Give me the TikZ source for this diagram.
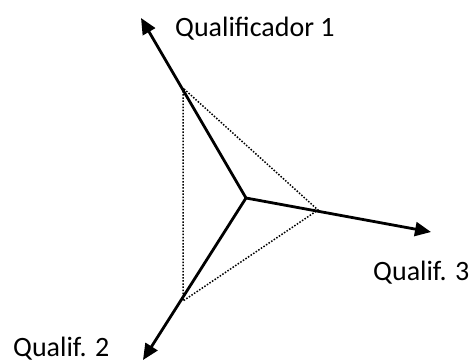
\documentclass[tikz,border=0pt]{standalone}
\usepackage{fontspec}
\setmainfont{Carlito}
\usetikzlibrary{arrows.meta,calc}
\begin{document}
\begin{tikzpicture}[x=1pt,y=-1pt,
  axis/.style={line width=2.8pt,-{Triangle[length=16pt,width=14pt]}},
  dotline/.style={line width=1.5pt,dash pattern=on 1.5pt off 1.6pt},
  lab/.style={font=\fontsize{28}{32}\selectfont,inner sep=0pt}]
\useasboundingbox (0,0) rectangle (473,362);
\coordinate (O) at (246,198);
\coordinate (A1) at (141,18);
\coordinate (A2) at (143,360);
\coordinate (A3) at (431,232);
\coordinate (P1) at (183,88);
\coordinate (P2) at (183,301);
\coordinate (P3) at (318,210);
\draw[dotline] (P1) -- (P2) -- (P3) -- cycle;
\draw[axis] (O) -- (A1);
\draw[axis] (O) -- (A2);
\draw[axis] (O) -- (A3);
\node[lab,anchor=base west] (L1) at (175,36) {Qualificador 1};
\node[lab,anchor=base west] (L2) at (13,356) {Qualif. 2};
\node[lab,anchor=base west] (L3) at (373,280) {Qualif. 3};
\end{tikzpicture}
\end{document}
